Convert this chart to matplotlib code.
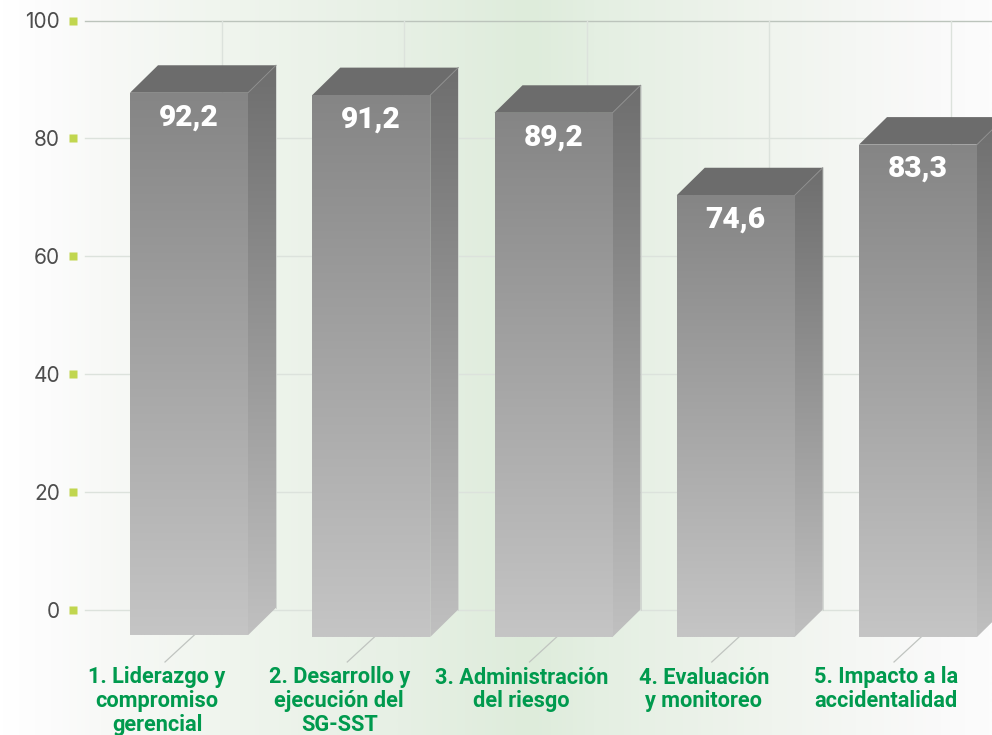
import numpy as np
import matplotlib
matplotlib.use("Agg")
import matplotlib.pyplot as plt
from matplotlib.colors import LinearSegmentedColormap
from matplotlib.patches import Polygon

categories = ["1. Liderazgo y\ncompromiso\ngerencial", "2. Desarrollo y\nejecución del\nSG-SST",
              "3. Administración\ndel riesgo", "4. Evaluación\ny monitoreo", "5. Impacto a la\naccidentalidad"]
value_labels = ["92,2", "91,2", "89,2", "74,6", "83,3"]
bar_tops = [92.4, 92.0, 89.0, 75.0, 83.6]      # heights as drawn in the picture
bar_bottoms = [0.3, 0.0, 0.0, 0.0, 0.0]
y_ticks = [0, 20, 40, 60, 80, 100]

W, H = 992, 735
PX_Y = 5.89
PX_X = 182.25
X0 = 189.0
to_x = lambda p: (p - X0) / PX_X
DX, DY = 28 / PX_X, 27.5 / PX_Y
BW = 118 / PX_X

fig = plt.figure(figsize=(W / 100, H / 100), dpi=100)
ax = fig.add_axes([0, 0, 1, 1])
ax.set_xlim(to_x(0), to_x(W))
ax.set_ylim(-(H - 609.5) / PX_Y, 100 + 20.5 / PX_Y)
ax.axis("off")
ymin, ymax = ax.get_ylim()

bg = LinearSegmentedColormap.from_list("bg", [(0, "#ffffff"), (0.05, "#fcfcfc"), (0.10, "#f8f9f7"), (0.22, "#f0f5ee"),
                                              (0.40, "#e7f0e5"), (0.535, "#deecdb"), (0.60, "#e4efe2"),
                                              (0.78, "#f0f4ee"), (0.95, "#fafafa"), (1, "#fcfcfc")])
ax.imshow(np.linspace(0, 1, 512)[None, :], extent=[to_x(0), to_x(W), ymin, ymax], aspect="auto", cmap=bg,
          vmin=0, vmax=1, zorder=0)
ax.set_xlim(to_x(0), to_x(W))
ax.set_ylim(ymin, ymax)

for v in y_ticks:
    ax.plot([to_x(85), to_x(W)], [v, v], color="#bcc4bc" if v == 100 else "#dce2dc", lw=1, zorder=1)
    ax.plot(to_x(73), v, "s", ms=6, mec="none", color="#c1d64f", zorder=1, clip_on=False)
    ax.text(to_x(60), v, str(v), ha="right", va="center_baseline", fontsize=15, family="Inter", color="#4d4d4d")
for i in range(5):
    vx = i + to_x(222)
    ax.plot([vx, vx], [0, 100], color="#dce2dc", lw=1, zorder=1)
    ax.plot([vx, vx - 57 / PX_X], [0, -(662 - 609.5) / PX_Y], color="#c0c4c0", lw=0.9, zorder=1)


def grad(poly, top, bottom, c_top, c_bottom, z):
    cm = LinearSegmentedColormap.from_list("g", [c_bottom, c_top])
    xs, ys = zip(*poly)
    im = ax.imshow(np.linspace(0, 1, 256)[:, None], origin="lower", extent=[min(xs), max(xs), bottom, top],
                   aspect="auto", cmap=cm, zorder=z)
    patch = Polygon(poly, closed=True, transform=ax.transData, fc="none", ec="none")
    ax.add_patch(patch)
    im.set_clip_path(patch)


for i, (top, base, lab, cat) in enumerate(zip(bar_tops, bar_bottoms, value_labels, categories)):
    l, r = i - BW / 2, i + BW / 2
    ft, fb = top - DY, base - DY
    grad([(r, ft), (r + DX, top), (r + DX, base), (r, fb)], top, fb, "#6e6e6e", "#c0c0c0", 2)
    ax.add_patch(Polygon([(l, ft), (l + DX, top), (r + DX, top), (r, ft)], closed=True, fc="#6c6c6c", ec="none", zorder=3))
    grad([(l, ft), (r, ft), (r, fb), (l, fb)], ft, fb, "#858585", "#c5c5c5", 4)
    ax.plot([r, r + DX], [ft, top], color="#8c8c8c", lw=0.7, zorder=5)
    ax.plot([r + DX, r + DX], [top, base], color="#cfd3cf", lw=0.6, zorder=1.5)
    ax.text(i, ft - 21.5 / PX_Y, lab, ha="center", va="center_baseline", fontsize=21.5, family="Roboto",
            fontweight="black", color="white", zorder=6)
    ax.text(i - 32 / PX_X, -(666.5 - 609.5) / PX_Y, cat, ha="center", va="top", fontsize=15.7, family="Roboto",
            fontweight="bold", color="#009a4e", linespacing=1.1, zorder=6)

ax.set_xlim(to_x(0), to_x(W))
ax.set_ylim(ymin, ymax)
fig.savefig("out.png", dpi=100)
